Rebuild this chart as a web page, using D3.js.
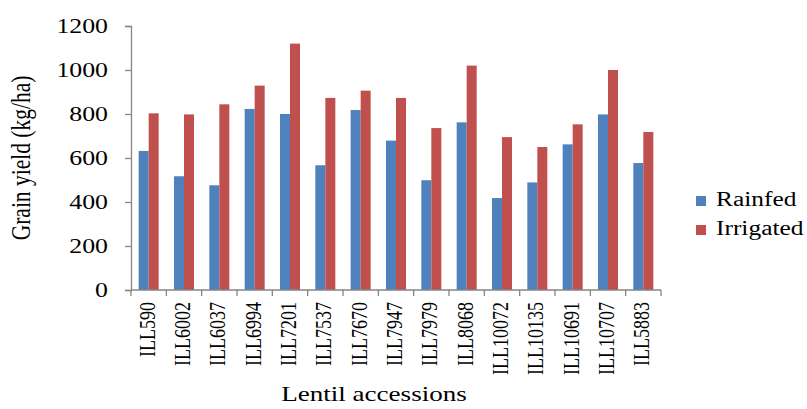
<!DOCTYPE html>
<html><head><meta charset="utf-8">
<script src="https://cdn.jsdelivr.net/npm/d3@7"></script>
<style>body{margin:0;background:#fff}</style>
</head><body><svg id="c" width="807" height="409"></svg>
<script>
const categories = ["ILL590","ILL6002","ILL6037","ILL6994","ILL7201","ILL7537","ILL7670","ILL7947","ILL7979","ILL8068","ILL10072","ILL10135","ILL10691","ILL10707","ILL5883"];
const rainfed = [632,517,476,823,800,567,818,679,499,762,418,489,662,798,577];
const irrigated = [803,798,844,929,1120,873,906,873,736,1020,695,650,753,1000,718];
const yTicks = [0,200,400,600,800,1000,1200];
const seriesNames = ["Rainfed","Irrigated"];
const colors = ["#4F81BD","#C0504D"];

const FONT = "'Liberation Serif', 'DejaVu Serif', 'Times New Roman', serif";
const SX = 1.23;
const svg = d3.select("#c");
const L = 131, R = 661, T = 26, B = 290;
const x = d3.scaleBand().domain(categories).range([L, R]);
const y = d3.scaleLinear().domain([0,1200]).range([B, T]);
const barW = 10;
const axisCol = "#868686";

const series = [rainfed, irrigated];
series.forEach((vals, si) => {
  svg.append("g").selectAll("rect").data(categories).join("rect")
    .attr("x", d => x(d) + x.bandwidth()/2 - barW + si*barW)
    .attr("y", (d,i) => y(vals[i]))
    .attr("width", barW)
    .attr("height", (d,i) => y(0) - y(vals[i]))
    .attr("fill", colors[si]);
});

const ya = svg.append("g").attr("transform", `translate(${L},0)`)
  .call(d3.axisLeft(y).tickValues(yTicks).tickSize(6).tickFormat(d3.format("d")));
ya.attr("font-family", null).attr("font-size", null);
ya.select(".domain").attr("stroke", axisCol).attr("stroke-width", 1.3);
ya.selectAll(".tick line").attr("stroke", axisCol).attr("stroke-width", 1.3);
ya.selectAll(".tick text").attr("x", 0).attr("dy", null).attr("y", 6.5)
  .attr("transform", `translate(-23,0) scale(${SX},1)`)
  .style("font-size", "21px").style("font-family", FONT).attr("fill","#000");

const xa = svg.append("g").attr("transform", `translate(0,${B})`);
xa.append("line").attr("x1", L).attr("x2", R).attr("stroke", axisCol).attr("stroke-width", 1.3);
const bounds = categories.map(c => x(c)).concat([R]);
xa.selectAll("line.t").data(bounds).join("line").attr("class","t")
  .attr("x1", d => d).attr("x2", d => d).attr("y1", 0).attr("y2", 6)
  .attr("stroke", axisCol).attr("stroke-width", 1.3);
xa.selectAll("text").data(categories).join("text")
  .attr("transform", d => `translate(${x(d) + x.bandwidth()/2 + 6},${12}) scale(${SX},1) rotate(-90)`)
  .attr("text-anchor", "end")
  .style("font-size", "18px").style("font-family", FONT)
  .text(d => d);

svg.append("text").attr("transform", `translate(374,401) scale(${SX},1)`).attr("text-anchor", "middle")
  .style("font-size", "22px").style("font-family", FONT).text("Lentil accessions");
svg.append("text").attr("transform", `translate(30,158) scale(${SX},1) rotate(-90)`).attr("text-anchor", "middle")
  .style("font-size", "21.5px").style("font-family", FONT).text("Grain yield (kg/ha)");

const lg = svg.append("g");
seriesNames.forEach((n, i) => {
  const yy = 201 + i*29;
  lg.append("rect").attr("x", 696).attr("y", yy - 5).attr("width", 10).attr("height", 10).attr("fill", colors[i]);
  lg.append("text").attr("transform", `translate(716,${yy + 5}) scale(1.27,1)`)
    .style("font-size", "20px").style("font-family", FONT).text(n);
});
</script></body></html>
